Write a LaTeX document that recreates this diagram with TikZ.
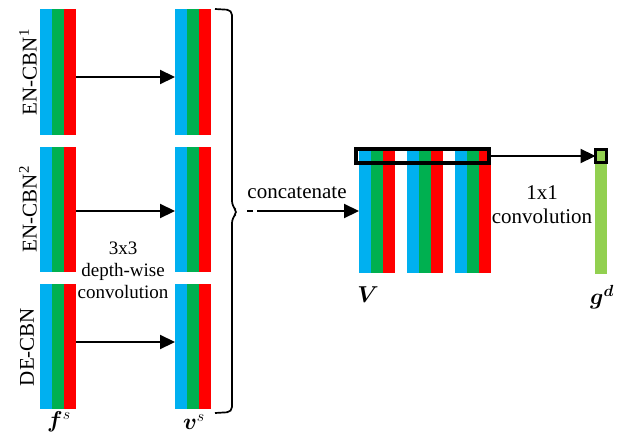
\documentclass[tikz,border=0pt]{standalone}
\usepackage{fix-cm}
\usepackage{fontspec}
\setmainfont{Liberation Serif}
\usepackage{bm}
\usetikzlibrary{arrows.meta}

\definecolor{cblue}{HTML}{00B0F0}
\definecolor{cgreen}{HTML}{00B050}
\definecolor{cred}{HTML}{FF0000}
\definecolor{clime}{HTML}{92D050}

\tikzset{
  x=1pt, y=-1pt,
  feat/.style={minimum width=36pt, minimum height=125pt, inner sep=0pt, outer sep=0pt,
    path picture={
      \fill[cblue] (path picture bounding box.north west) rectangle ([xshift=12pt]path picture bounding box.south west);
      \fill[cgreen] ([xshift=12pt]path picture bounding box.north west) rectangle ([xshift=24pt]path picture bounding box.south west);
      \fill[cred] ([xshift=24pt]path picture bounding box.north west) rectangle (path picture bounding box.south east);
    }},
  flow/.style={line width=2.2pt, -{Triangle[length=15pt,width=14pt]}},
  lbl/.style={font=\fontsize{21}{24}\selectfont, inner sep=0pt},
  mathlbl/.style={font=\fontsize{23}{26}\selectfont, inner sep=0pt},
  smalllbl/.style={font=\fontsize{19}{22}\selectfont, inner sep=0pt, align=center},
  frame/.style={draw=black, line width=3.1pt, inner sep=0pt, outer sep=0pt},
}

\begin{document}
\begin{tikzpicture}
\useasboundingbox (0,0) rectangle (618,434);

% input features and their depth-wise convolved versions
\node[feat, minimum height=126pt] (f1) at (58,72) {};
\node[feat] (f2) at (58,209.5) {};
\node[feat] (f3) at (58,346.5) {};
\node[feat, minimum height=126pt] (v1) at (193,72) {};
\node[feat] (v2) at (193,209.5) {};
\node[feat] (v3) at (193,346.5) {};

\node[lbl, rotate=90] (n1) at (28,72) {EN-CBN\textsuperscript{1}};
\node[lbl, rotate=90] (n2) at (28,209) {EN-CBN\textsuperscript{2}};
\node[lbl, rotate=90] (n3) at (27,347) {DE-CBN};

\draw[flow] ([yshift=-5pt]f1.east) -- ([yshift=-5pt]v1.west);
\draw[flow] ([yshift=-1.5pt]f2.east) -- ([yshift=-1.5pt]v2.west);
\draw[flow] ([yshift=4.5pt]f3.east) -- ([yshift=4.5pt]v3.west);

\node[smalllbl] (dw) at (123,270) {3x3\\depth-wise\\convolution};

\node[mathlbl] (fs) at (59,422) {$\bm{f}^{s}$};
\node[mathlbl] (vs) at (194,422) {$\bm{v}^{s}$};

% brace collecting the three branches
\draw[line width=1.7pt, rounded corners=5pt]
  (215,9) -- (232,10) -- (232,206) -- (238,212) -- (232,218) -- (232,412) -- (215,413);
\coordinate (bt) at (247,211);

% concatenated tensor
\node[feat, minimum height=126pt] (V1) at (377,210) {};
\node[feat, minimum height=126pt] (V2) at (425,210) {};
\node[feat, minimum height=126pt] (V3) at (473,210) {};

\draw[flow, dash pattern=on 6pt off 4pt on 400pt] (bt) -- (V1.west |- bt);
\node[lbl] (cat) at (297,193) {concatenate};

\node[frame, minimum width=133pt, minimum height=14pt] (win) at (422.5,156) {};

% 1x1 convolution output
\node[fill=clime, minimum width=12pt, minimum height=125pt, inner sep=0pt] (g) at (601,211.5) {};
\node[frame, fill=clime, minimum width=11pt, minimum height=13pt] (px) at (601,156) {};

\draw[flow] (win.east) -- (px.west);
\node[lbl, align=center] (cv) at (542,205) {1x1\\convolution};

\node[mathlbl] (Vl) at (368,295) {$\bm{V}$};
\node[mathlbl] (gl) at (602,297) {$\bm{g}^{\bm{d}}$};
\end{tikzpicture}
\end{document}
